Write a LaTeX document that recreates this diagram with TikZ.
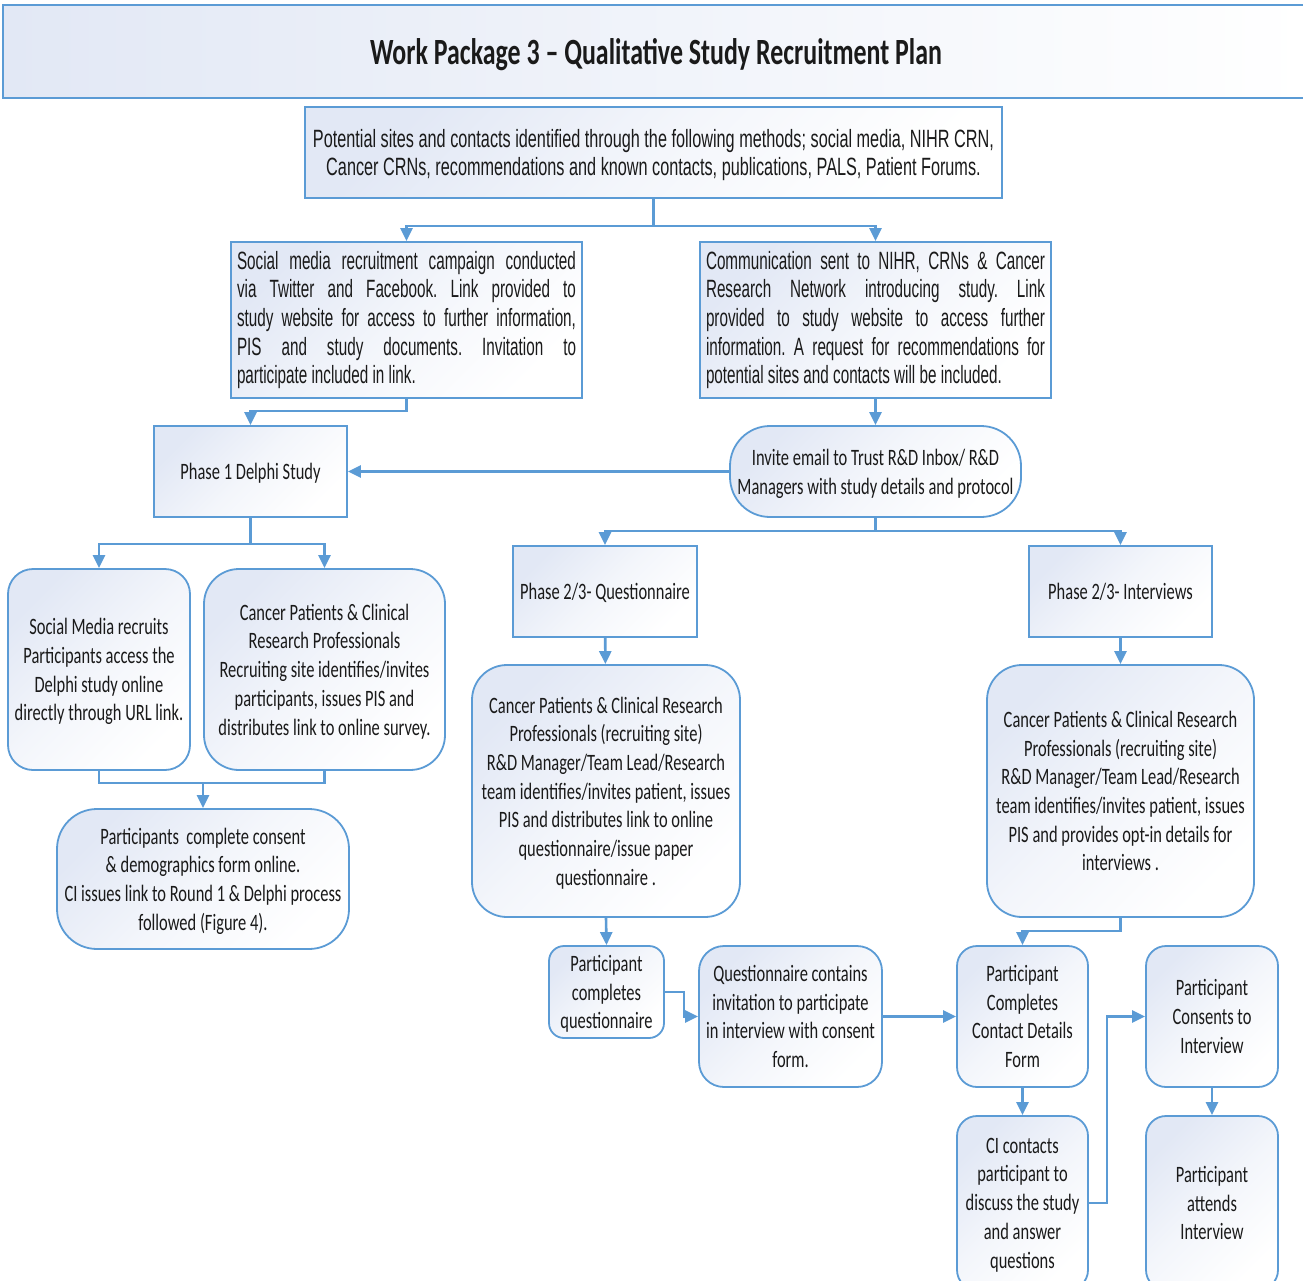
\documentclass[tikz,border=0pt]{standalone}
\usepackage{fontspec}
\setmainfont{Carlito}[FakeStretch=0.70]
\newfontfamily\narrowfont{Liberation Sans}[FakeStretch=0.61]
\newfontfamily\sitesfont{Liberation Sans}[FakeStretch=0.65]
\usetikzlibrary{arrows.meta, positioning}
\definecolor{wpblue}{HTML}{5B9BD5}
\definecolor{wpfill}{HTML}{E2E8F5}
\definecolor{wptext}{HTML}{1A1A1A}
\newcommand\wpfont{\fontsize{23.5}{28.7}\selectfont\frenchspacing}
\newcommand\wpnarrow{\narrowfont\fontsize{25}{28.7}\selectfont\frenchspacing}
\newcommand\wpsites{\sitesfont\fontsize{25}{28.7}\selectfont\frenchspacing}

\begin{document}
\begin{tikzpicture}[x=1pt, y=-1pt, >={Triangle[length=13pt, width=12pt]},
  wpbase/.style={draw=wpblue, line width=1.8pt, top color=wpfill, bottom color=white,
    middle color=white!60!wpfill, shading angle=45, inner sep=0pt, align=center,
    text=wptext, font=\wpfont},
  wpbox/.style={wpbase, text depth=0pt},
  sqbox/.style 2 args={wpbox, minimum width=#1, minimum height=#2},
  rdbox/.style n args={3}{wpbox, rounded corners=#3, minimum width=#1, minimum height=#2},
  jbox/.style={wpbase, font=\wpnarrow, minimum width=351, minimum height=156,
    text width=339, align=justify},
  wpline/.style={draw=wpblue, line width=2.6pt},
  wplink/.style={wpline, ->}
  ]

\useasboundingbox (0,0) rectangle (1303,1281);

% Title band
\node[wpbox, left color=wpfill, right color=white, minimum width=1306, minimum height=93,
  font=\fontsize{37}{40}\selectfont\bfseries] (title) at (656,51.5)
  {Work Package 3 -- Qualitative Study Recruitment Plan};

% --- Identification of sites ---
\node[sqbox={697}{91}, font=\wpsites] (sites) at (653.5,152.5)
  {Potential sites and contacts identified through the following methods; social media, NIHR CRN,\\
   Cancer CRNs, recommendations and known contacts, publications, PALS, Patient Forums.};

\node[jbox] (social) at (406.5,320)
  {Social media recruitment campaign conducted\linebreak
   via Twitter and Facebook. Link provided to\linebreak
   study website for access to further information,\linebreak
   PIS and study documents. Invitation to\linebreak
   participate included in link.};

\node[jbox] (comm) at (875.5,320)
  {Communication sent to NIHR, CRNs \& Cancer\linebreak
   Research Network introducing study. Link\linebreak
   provided to study website to access further\linebreak
   information. A request for recommendations for\linebreak
   potential sites and contacts will be included.};

\draw[wplink] (sites.south) -- ++(0,27) -| (social.north);
\draw[wplink] (sites.south) -- ++(0,27) -| (comm.north);

% --- Phase 1 ---
\node[sqbox={193}{91}] (delphi) at (250.5,471.5) {Phase 1 Delphi Study};
\node[rdbox={291}{91}{40}] (invite) at (875.5,471.5)
  {Invite email to Trust R\&D Inbox/ R\&D\\Managers with study details and protocol};

\draw[wplink] (social.south) -- ++(0,12) -| (delphi.north);
\draw[wplink] (comm) -- (invite);
\draw[wplink] (invite) -- (delphi);

\node[rdbox={182}{201}{25}] (smrec) at (99,669.5)
  {Social Media recruits\\Participants access the\\Delphi study online\\directly through URL link.};
\node[rdbox={241}{201}{35}] (cprec) at (324.5,669.5)
  {Cancer Patients \& Clinical\\Research Professionals\\Recruiting site identifies/invites\\
   participants, issues PIS and\\distributes link to online survey.};
\node[rdbox={292}{140}{40}] (consent) at (203,879)
  {Participants\ \ complete consent\\\& demographics form online.\\
   CI issues link to Round 1 \& Delphi process\\followed (Figure 4).};

\draw[wplink] (delphi.south) -- ++(0,26) -| (smrec.north);
\draw[wplink] (delphi.south) -- ++(0,26) -| (cprec.north);
\draw[wpline] (smrec.south) -- ++(0,12) -| (cprec.south);
\coordinate (dmerge) at (203,782);
\draw[wplink] (dmerge) -- (consent.north);

% --- Phase 2/3 ---
\node[sqbox={184}{91}] (quest) at (605,591.5) {Phase 2/3- Questionnaire};
\node[sqbox={183}{91}] (inter) at (1120.5,591.5) {Phase 2/3- Interviews};

\draw[wplink] (invite.south) -- ++(0,13) -| (quest.north);
\draw[wplink] (invite.south) -- ++(0,13) -| (inter.north);

\node[rdbox={268}{252}{35}] (qsite) at (606,791)
  {Cancer Patients \& Clinical Research\\Professionals (recruiting site)\\
   R\&D Manager/Team Lead/Research\\team identifies/invites patient, issues\\
   PIS and distributes link to online\\questionnaire/issue paper\\questionnaire .};
\node[rdbox={267}{252}{35}] (isite) at (1120.5,791)
  {Cancer Patients \& Clinical Research\\Professionals (recruiting site)\\
   R\&D Manager/Team Lead/Research\\team identifies/invites patient, issues\\
   PIS and provides opt-in details for\\interviews .};

\draw[wplink] (quest) -- (qsite);
\draw[wplink] (inter) -- (isite);

% --- Participant steps ---
\node[rdbox={115}{92}{15}] (mcomp) at (606.5,992)
  {Participant\\completes\\questionnaire};
\node[rdbox={183}{141}{25}] (qinv) at (790.5,1016.5)
  {Questionnaire contains\\invitation to participate\\in interview with consent\\form.};
\node[rdbox={131}{141}{20}] (cdet) at (1022.5,1016.5)
  {Participant\\Completes\\Contact Details\\Form};
\node[rdbox={132}{141}{20}] (pcons) at (1212,1016.5)
  {Participant\\Consents to\\Interview};
\node[rdbox={131}{174}{20}] (cicon) at (1022.5,1203)
  {CI contacts\\participant to\\discuss the study\\and answer\\questions};
\node[rdbox={132}{174}{20}] (attend) at (1212,1203)
  {Participant\\attends\\Interview};

\draw[wplink] (qsite.south) -- (mcomp.north);
\draw[wplink] (mcomp.east) -- ++(19,0) |- (qinv.west);
\draw[wplink] (qinv) -- (cdet);
\draw[wplink] (isite.south) -- ++(0,13) -| (cdet.north);
\draw[wplink] (cdet) -- (cicon);
\draw[wplink] (cicon.east) -- ++(18,0) |- (pcons.west);
\draw[wplink] (pcons) -- (attend);

\end{tikzpicture}
\end{document}
